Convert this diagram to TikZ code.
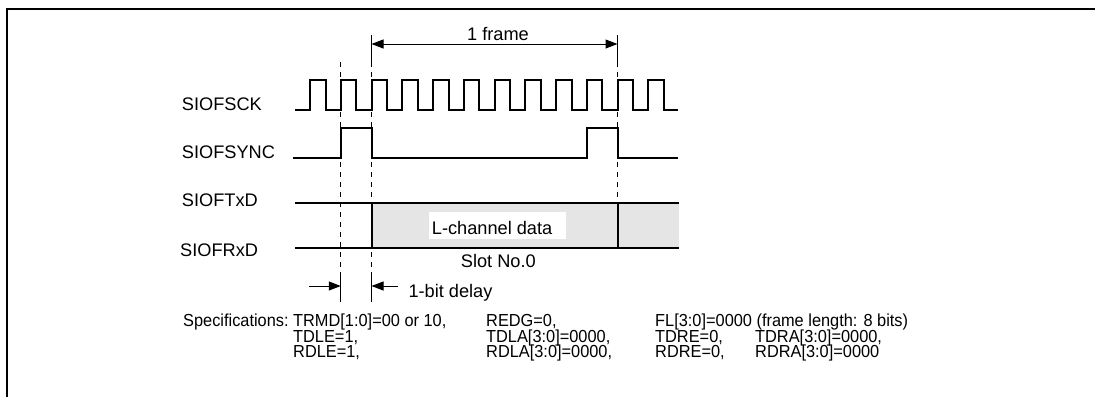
\documentclass[tikz,border=0pt]{standalone}
\usepackage{fontspec}
\setmainfont{Liberation Sans}
\usetikzlibrary{arrows.meta}
\begin{document}
\begin{tikzpicture}[x=1pt,y=-1pt,
  sig/.style={line width=2pt, line join=miter},
  guide/.style={line width=0.8pt},
  guidedash/.style={line width=0.8pt, dash pattern=on 5pt off 5pt},
  lbl/.style={font=\fontsize{18.2}{20}\selectfont, inner sep=0pt, anchor=base west},
  spec/.style={font=\fontsize{17.4}{19}\selectfont, xscale=0.94, inner sep=0pt, anchor=base west},
  dimarrow/.style={line width=1pt, -{Triangle[length=12pt,width=9pt]}},
  dimboth/.style={line width=1pt, {Triangle[length=12pt,width=9pt]}-{Triangle[length=12pt,width=9pt]}},
]
\useasboundingbox (0,0) rectangle (1095,402);
\draw[line width=2pt] (1095,9) -- (7,9) -- (7,397);

% data bus
\fill[gray!20] (371.5,203) rectangle (679,248);
\fill[white] (429,211.7) rectangle (566,239);

% guide lines
\draw[guidedash] (340.75,62) -- (340.75,275);
\draw[guide] (340.75,275) -- (340.75,302);
\draw[guide] (371.5,35) -- (371.5,62);
\draw[guidedash] (371.5,62) -- (371.5,275);
\draw[guide] (371.5,275) -- (371.5,302);
\draw[guide] (617.5,35) -- (617.5,62);
\draw[guidedash] (617.5,62) -- (617.5,203);

% clock
\draw[sig] (295,110) foreach \k in {0,...,11} { -- ({310+30.75*\k},110) -- ({310+30.75*\k},80) -- ({325.5+30.75*\k},80) -- ({325.5+30.75*\k},110) } -- (678,110);

% sync
\draw[sig] (293,158) -- (340.75,158) -- (340.75,128) -- (371.5,128) -- (371.5,158) -- (586.75,158) -- (586.75,128) -- (617.5,128) -- (617.5,158) -- (678,158);

% data lines
\draw[sig] (295,203) -- (679,203);
\draw[sig] (295,248) -- (679,248);
\draw[sig] (371.5,203) -- (371.5,248);
\draw[sig] (617.5,203) -- (617.5,248);

% frame arrow
\coordinate (fa) at (371.5,44);
\coordinate (fb) at (617.5,44);
\draw[dimboth] (fa) -- (fb);
\node[font=\fontsize{18.2}{20}\selectfont, inner sep=0pt, anchor=base] (frame) at (498,40) {1 frame};

% 1-bit delay
\coordinate (da) at (309,286);
\coordinate (db) at (340.75,286);
\coordinate (dc) at (398,286);
\coordinate (dd) at (371.5,286);
\draw[dimarrow] (da) -- (db);
\draw[dimarrow] (dc) -- (dd);
\node[lbl] (delay) at (408.3,297.3) {1-bit delay};

% signal labels
\node[lbl] (sck) at (181.7,110) {SIOFSCK};
\node[lbl] (sync) at (181.7,158.3) {SIOFSYNC};
\node[lbl] (txd) at (181.7,206.7) {SIOFTxD};
\node[lbl] (rxd) at (180,256) {SIOFRxD};

\node[lbl] (lch) at (431.7,234) {L-channel data};
\node[lbl] (slot) at (460.7,267) {Slot No.0};

% specifications
\node[spec] (s0) at (183,326.3) {Specifications:};
\node[spec] (s11) at (293,326.3) {TRMD[1:0]=00 or 10,};
\node[spec] (s12) at (486,326.3) {REDG=0,};
\node[spec] (s13) at (655,326.3) {FL[3:0]=0000 (frame length: 8 bits)};
\node[spec] (s21) at (293,342.2) {TDLE=1,};
\node[spec] (s22) at (486,342.2) {TDLA[3:0]=0000,};
\node[spec] (s23) at (655,342.2) {TDRE=0,};
\node[spec] (s24) at (755,342.2) {TDRA[3:0]=0000,};
\node[spec] (s31) at (293,357.5) {RDLE=1,};
\node[spec] (s32) at (486,357.5) {RDLA[3:0]=0000,};
\node[spec] (s33) at (655,357.5) {RDRE=0,};
\node[spec] (s34) at (755,357.5) {RDRA[3:0]=0000};
\end{tikzpicture}
\end{document}
